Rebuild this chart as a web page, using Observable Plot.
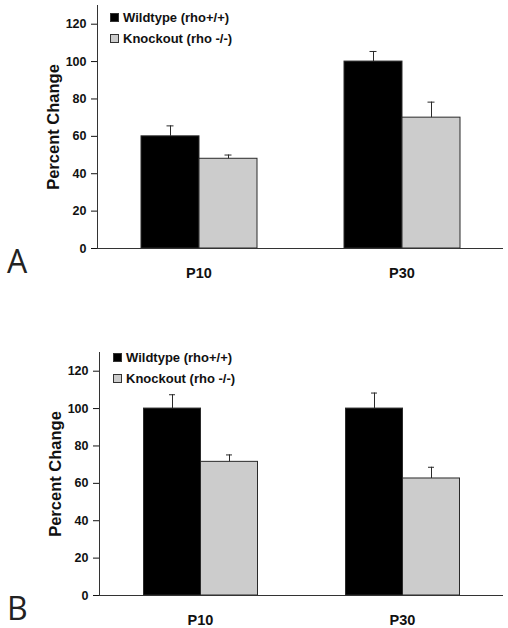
<!DOCTYPE html>
<html><head><meta charset="utf-8">
<script src="https://cdn.jsdelivr.net/npm/d3@7"></script>
<script src="https://cdn.jsdelivr.net/npm/@observablehq/plot@0.6"></script>
<style>
html,body{margin:0;padding:0;background:#fff;overflow:hidden;}
#root{position:relative;width:508px;height:628px;font-family:"Liberation Sans",Arial,sans-serif;}
.panel{position:absolute;left:0;}
.letter{position:absolute;font-family:"Open Sans",sans-serif;font-size:32px;color:#222;line-height:1;}
.legend{position:absolute;font-weight:bold;font-size:13px;color:#111;}
.legend .row{display:flex;align-items:center;height:20.7px;white-space:nowrap;}
.legend .sw{width:9px;height:9px;box-sizing:border-box;border:1px solid #333;margin-right:4px;flex:none;}
</style></head><body><div id="root"></div>
<script>
const ages = ["P10", "P30"];
const genotypes = ["Wildtype (rho+/+)", "Knockout (rho -/-)"];
const colors = ["#000000", "#cccccc"];
const yTicks = [0, 20, 40, 60, 80, 100, 120];
const yLabel = "Percent Change";
const panelLabels = ["A", "B"];
// order: P10 Wildtype, P10 Knockout, P30 Wildtype, P30 Knockout
const valuesA = [60, 48, 100, 70];
const errorsA = [5.6, 2, 5.4, 8.3];
const valuesB = [100, 71.5, 100, 62.6];
const errorsB = [7.4, 3.7, 8.3, 6];

function buildData(values, errors) {
  const data = [];
  ages.forEach((a, i) => genotypes.forEach((g, j) => {
    const k = i * genotypes.length + j;
    data.push({age: a, genotype: g, value: values[k], err: errors[k], top: values[k] + errors[k]});
  }));
  return data;
}

function panel(values, errors, left) {
  const data = buildData(values, errors);
  return Plot.plot({
    width: 508, height: 281,
    marginTop: 5, marginBottom: 33, marginLeft: left, marginRight: 5,
    style: {fontFamily: "Liberation Sans, Arial, sans-serif", fontWeight: "bold", color: "#111", background: "#fff", overflow: "visible"},
    fx: {domain: ages, padding: 0, label: null},
    x: {domain: genotypes, paddingInner: 0, paddingOuter: 0.75, axis: null},
    y: {domain: [0, 130]},
    color: {domain: genotypes, range: colors},
    marks: [
      Plot.barY(data, {fx: "age", x: "genotype", y: "value", fill: "genotype", stroke: "#2a2a2a", strokeWidth: 1}),
      Plot.ruleX(data, {fx: "age", x: "genotype", y1: "value", y2: "top", stroke: "#2a2a2a"}),
      Plot.tickY(data, {fx: "age", x: "genotype", y: "top", stroke: "#2a2a2a", insetLeft: 25.5, insetRight: 25.5}),
      Plot.ruleY([0], {stroke: "#333"}),
      Plot.frame({anchor: "left", facetAnchor: "left", stroke: "#333"}),
      Plot.axisY({ticks: yTicks, tickSize: 6, tickPadding: 5, fontSize: 12.5, label: null}),
      Plot.axisFx({anchor: "bottom", tickSize: 0, tickPadding: 19, fontSize: 14.5, label: null}),
      Plot.text([yLabel], {frameAnchor: "left", textAnchor: "middle", rotate: -90, dx: -44, fontSize: 16.5, facetAnchor: "left"})
    ]
  });
}

function legend(top, left) {
  const div = document.createElement("div");
  div.className = "legend";
  div.style.top = top + "px";
  div.style.left = left + "px";
  genotypes.forEach((g, i) => {
    const row = document.createElement("div");
    row.className = "row";
    const sw = document.createElement("span");
    sw.className = "sw";
    sw.style.background = colors[i];
    const t = document.createElement("span");
    t.textContent = g;
    row.append(sw, t);
    div.append(row);
  });
  return div;
}

const root = document.getElementById("root");
const panels = [
  {values: valuesA, errors: errorsA, top: 0, left: 97, legTop: 7.5, legLeft: 110},
  {values: valuesB, errors: errorsB, top: 347, left: 98.5, legTop: 347.2, legLeft: 113}
];
panels.forEach((p, i) => {
  const wrap = document.createElement("div");
  wrap.className = "panel";
  wrap.style.top = p.top + "px";
  wrap.append(panel(p.values, p.errors, p.left));
  root.append(wrap);
  root.append(legend(p.legTop, p.legLeft));
  const L = document.createElement("div");
  L.className = "letter";
  L.textContent = panelLabels[i];
  L.style.left = "7px";
  L.style.top = (p.top + 244.5) + "px";
  root.append(L);
});
</script></body></html>
